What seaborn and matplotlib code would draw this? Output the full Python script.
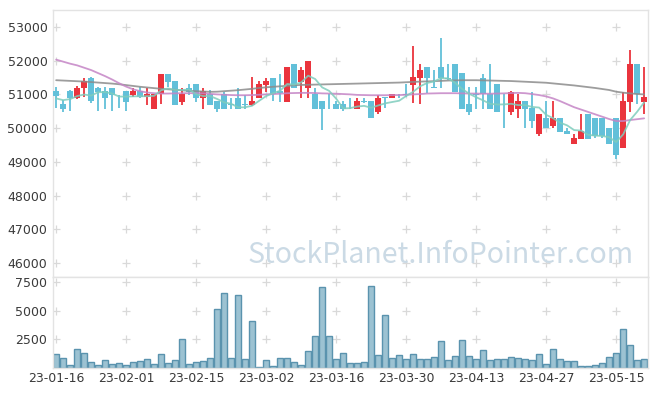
import numpy as np
import pandas as pd
import matplotlib
matplotlib.use("Agg")
import matplotlib.pyplot as plt
import seaborn as sns

# ---------------- data ----------------
tick_labels = ["23-01-16", "23-02-01", "23-02-15", "23-03-02", "23-03-16",
               "23-03-30", "23-04-13", "23-04-27", "23-05-15"]

open_ = [51100, 50710, 51100, 50900, 51190, 51500, 51200, 51100, 51200, 50960,
         51100, 50980, 51100, 50910, 50570, 51000, 51600, 51390, 50780, 51190,
         51300, 50900, 51000, 50800, 51000, 50720, 50900, 50710, 50690, 50900,
         51280, 51500, 51100, 50780, 51900, 51370, 51200, 51000, 50800, 50700,
         50710, 50710, 50600, 50560, 50800, 50810, 50480, 50930, 50900, 50990,
         51010, 51270, 51490, 51800, 51210, 51810, 51490, 51890, 51620, 50710,
         51000, 51500, 51000, 51300, 50520, 50480, 50560, 50800, 50600, 49820,
         50300, 50070, 50300, 49920, 49530, 49670, 50410, 50300, 50300, 49990,
         50300, 49400, 50780, 51900, 50780]
high = [51210, 50830, 51120, 51250, 51500, 51520, 51220, 51220, 51200, 50980,
        51100, 51190, 51220, 51190, 51010, 51600, 51600, 51390, 51180, 51300,
        51300, 51190, 51120, 50800, 51060, 50900, 51190, 50980, 51510, 51400,
        51500, 51500, 51600, 51800, 51900, 51800, 52000, 51180, 50800, 51000,
        50800, 50800, 50900, 50890, 50900, 50810, 50980, 50930, 51000, 51000,
        51300, 52420, 51900, 51800, 51720, 52680, 51900, 51890, 51620, 51210,
        51220, 51600, 51890, 51300, 51000, 51100, 51000, 50800, 51070, 50410,
        50800, 50800, 50300, 50000, 49830, 50420, 50410, 50300, 50300, 49990,
        50300, 51070, 52310, 51900, 51810]
low = [50590, 50470, 50510, 50850, 50910, 50750, 50510, 50580, 50510, 50590,
       50510, 50910, 50880, 50680, 50560, 50730, 51220, 50680, 50690, 50980,
       50770, 50580, 50680, 50480, 50570, 50580, 50570, 50580, 50660, 50900,
       51060, 50800, 50770, 50780, 51200, 50890, 50890, 50560, 49950, 50560,
       50570, 50500, 50580, 50560, 50740, 50290, 50410, 50600, 50900, 50900,
       50930, 50740, 50710, 51030, 51190, 51200, 51420, 51070, 50580, 50400,
       50580, 50580, 50560, 50480, 49990, 50400, 50300, 50000, 49990, 49780,
       49990, 49990, 49890, 49820, 49530, 49670, 49670, 49700, 49700, 49530,
       49080, 49400, 50480, 50710, 50410]
close = [50950, 50560, 50880, 51200, 51390, 50790, 51060, 50900, 50990, 50940,
         50780, 51100, 50910, 51000, 51000, 51600, 51370, 50680, 51000, 51070,
         50900, 51100, 50680, 50570, 50570, 50690, 50570, 50690, 50800, 51300,
         51390, 51000, 51050, 51800, 51200, 51720, 52000, 50560, 50560, 50680,
         50570, 50560, 50590, 50800, 50780, 50290, 50900, 50900, 51000, 50970,
         50990, 51520, 51720, 51490, 51200, 51490, 51470, 51070, 50580, 50480,
         50980, 51000, 50560, 50480, 50500, 51070, 50800, 50560, 50210, 50410,
         49990, 50300, 49890, 49820, 49710, 49920, 49670, 49770, 49770, 49530,
         49200, 50800, 51900, 51000, 50910]
volume = [1245, 893, 280, 1680, 1330, 540, 280, 660, 370, 455,
          280, 540, 630, 805, 370, 1245, 455, 720, 2560, 370,
          540, 630, 893, 5190, 6505, 893, 6360, 805, 4080, 70,
          660, 190, 893, 893, 540, 280, 1450, 2820, 7030, 2820,
          805, 1330, 455, 455, 540, 7120, 1155, 4665, 893, 1155,
          805, 1245, 805, 805, 980, 2320, 720, 1070, 2470, 1070,
          805, 1595, 720, 805, 805, 980, 893, 805, 720, 1245,
          370, 1680, 805, 630, 630, 190, 190, 280, 455, 980,
          1330, 3440, 2035, 720, 805]
# closes of the 4 sessions before the first shown one (estimated from the 5-day line)
prev_close = [50810, 50730, 50750, 51160]
ma20 = [52030, 51970, 51910, 51860, 51790, 51720, 51630, 51540, 51440, 51330,
        51230, 51150, 51095, 51055, 51035, 51025, 51025, 51030, 51035, 51035,
        51040, 51030, 51015, 51000, 50990, 50980, 50975, 50975, 50980, 50990,
        51000, 51010, 51020, 51035, 51040, 51045, 51045, 51040, 51030, 51025,
        51020, 51010, 51000, 50985, 50980, 50975, 50975, 50975, 50980, 50980,
        50990, 51000, 51010, 51025, 51030, 51035, 51035, 51035, 51030, 51025,
        51025, 51020, 51020, 51025, 51030, 51040, 51045, 51035, 51010, 50980,
        50940, 50880, 50800, 50710, 50620, 50550, 50480, 50410, 50340, 50270,
        50210, 50210, 50240, 50265, 50290]
ma60 = [51420, 51410, 51400, 51390, 51380, 51365, 51350, 51335, 51320, 51300,
        51275, 51250, 51225, 51205, 51185, 51165, 51150, 51135, 51120, 51105,
        51095, 51085, 51075, 51080, 51095, 51110, 51125, 51145, 51165, 51190,
        51210, 51225, 51240, 51255, 51270, 51280, 51285, 51290, 51295, 51300,
        51305, 51310, 51315, 51320, 51325, 51330, 51335, 51340, 51345, 51350,
        51360, 51370, 51378, 51385, 51392, 51400, 51410, 51415, 51420, 51420,
        51420, 51415, 51410, 51405, 51400, 51395, 51385, 51375, 51365, 51355,
        51345, 51325, 51305, 51285, 51265, 51240, 51215, 51190, 51160, 51130,
        51080, 51050, 51030, 51010, 51000]
price_ticks = [46000, 47000, 48000, 49000, 50000, 51000, 52000, 53000]
volume_ticks = [2500, 5000, 7500]

# ---------------- derived frame ----------------
n = len(close)
idx = np.arange(n)
df = pd.DataFrame({"i": idx, "open": open_, "high": high, "low": low,
                   "close": close, "volume": volume, "ma20": ma20, "ma60": ma60})
all_close = pd.Series(prev_close + close)
df["ma5"] = all_close.rolling(5).mean().iloc[len(prev_close):].values
df["up"] = df["close"] >= df["open"]

UP = "#ea343d"
DOWN = "#62c0d9"
VOL_FACE = "#9cc2d2"
VOL_EDGE = "#5a93ae"
GRID = "#d9d9d9"
FRAME = "#e3e3e3"
LABEL = "#3a3a3a"

sns.set_style("white")
plt.rcParams["font.family"] = ["DejaVu Sans"]

fig = plt.figure(figsize=(6.57, 3.96), dpi=100)
ax = fig.add_axes([53 / 657, 1 - 277 / 396, 595 / 657, 267 / 396])
axv = fig.add_axes([53 / 657, 1 - 368 / 396, 595 / 657, 91 / 396], sharex=ax)

xt = list(range(0, n, 10))

# grid crosses
for a, yt in ((ax, price_ticks), (axv, volume_ticks)):
    gx, gy = np.meshgrid(xt, yt)
    a.plot(gx.ravel(), gy.ravel(), linestyle="none", marker="+", markersize=6,
           markeredgewidth=0.9, color=GRID, zorder=0)

# candles
colors = np.where(df["up"], UP, DOWN)
ax.vlines(df["i"], df["low"], df["high"], colors=colors, linewidth=1.3, zorder=2)
body_bottom = np.minimum(df["open"], df["close"])
body_h = np.maximum(np.abs(df["close"] - df["open"]), 18)
ax.bar(df["i"], body_h, bottom=body_bottom, width=0.78, color=colors,
       linewidth=0, zorder=3)

# moving averages
sns.lineplot(data=df, x="i", y="ma60", ax=ax, color="#8c8c8c", linewidth=1.3,
             alpha=0.85, zorder=4)
sns.lineplot(data=df, x="i", y="ma20", ax=ax, color="#c585c6", linewidth=1.3,
             alpha=0.85, zorder=4)
sns.lineplot(data=df, x="i", y="ma5", ax=ax, color="#7fcdbd", linewidth=1.3,
             alpha=0.85, zorder=4)

# volume
sns.barplot(data=df, x="i", y="volume", ax=axv, native_scale=True, color=VOL_FACE,
            edgecolor=VOL_EDGE, linewidth=1.0, width=0.92, saturation=1,
            errorbar=None, zorder=2)

# watermark
ax.text(0.652, 0.082, "StockPlanet.InfoPointer.com", transform=ax.transAxes,
        ha="center", va="center", fontsize=20.5, color="#cbdae5", zorder=1,
        family=["Noto Sans CJK KR", "DejaVu Sans"])

# axes styling
ax.set_xlim(-0.45, n - 0.45)
ax.set_ylim(45590, 53500)
axv.set_ylim(0, 7940)
ax.set_yticks(price_ticks)
ax.set_yticklabels([str(t) for t in price_ticks])
axv.set_yticks(volume_ticks)
axv.set_yticklabels([str(t) for t in volume_ticks])
axv.set_xticks(xt)
axv.set_xticklabels(tick_labels)
ax.tick_params(axis="x", bottom=False, labelbottom=False)
for a in (ax, axv):
    a.set_xlabel("")
    a.set_ylabel("")
    a.tick_params(axis="both", length=0, labelsize=9, colors=LABEL, pad=4)
    for s in a.spines.values():
        s.set_color(FRAME)
        s.set_linewidth(1.0)
axv.tick_params(axis="x", pad=3)

fig.savefig("out.png", dpi=100)
